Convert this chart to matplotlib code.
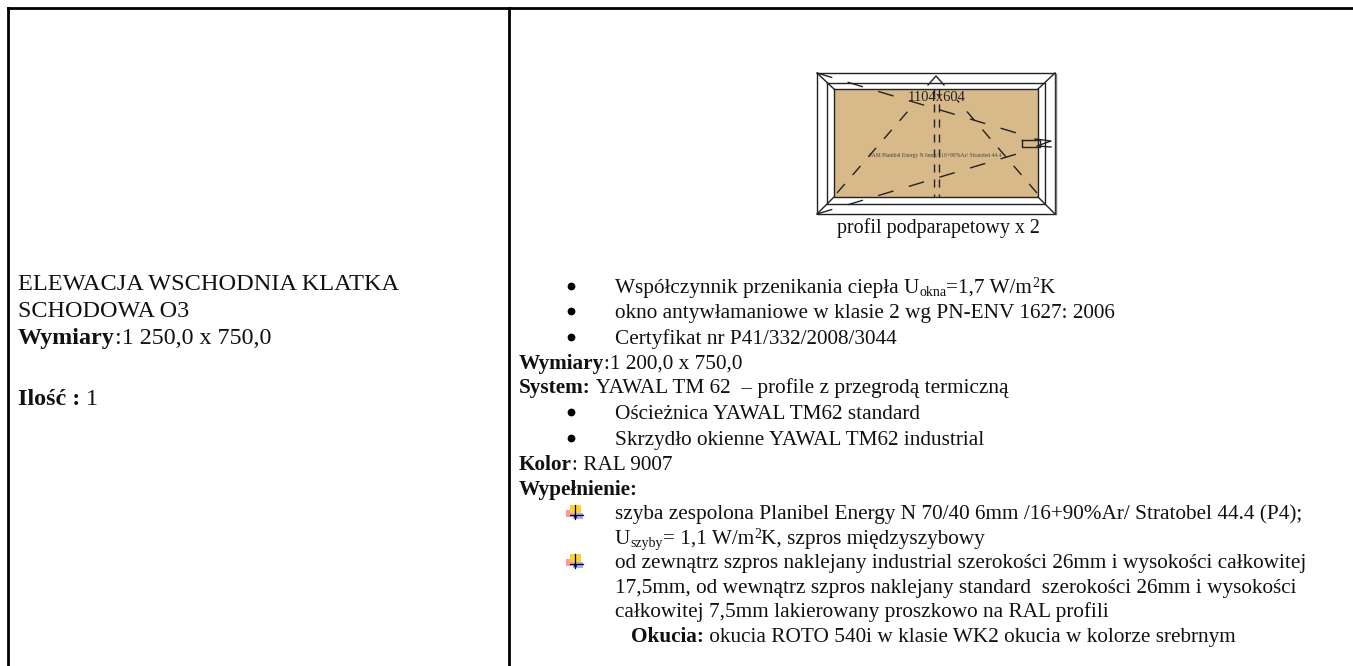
#!/usr/bin/env python3
import matplotlib
matplotlib.use("Agg")
import matplotlib.pyplot as plt
from matplotlib.patches import Rectangle

W, H = 1353, 666
FS = 15.3
FS_LEFT = 17.3
FS_SUB = 10

left_text = ["ELEWACJA WSCHODNIA KLATKA", "SCHODOWA O3"]
left_bold = [("Wymiary", ":1 250,0 x 750,0"), ("Ilość :", " 1")]

bullet_text = [
    "okno antywłamaniowe w klasie 2 wg PN-ENV 1627: 2006",
    "Certyfikat nr P41/332/2008/3044",
    "Ościeżnica YAWAL TM62 standard",
    "Skrzydło okienne YAWAL TM62 industrial",
]
fill_text = [
    "szyba zespolona Planibel Energy N 70/40 6mm /16+90%Ar/ Stratobel 44.4 (P4);",
    "od zewnątrz szpros naklejany industrial szerokości 26mm i wysokości całkowitej",
    "17,5mm, od wewnątrz szpros naklejany standard  szerokości 26mm i wysokości",
    "całkowitej 7,5mm lakierowany proszkowo na RAL profili",
]
bold_text = [
    ("Wymiary", ":1 200,0 x 750,0"),
    ("System:", " YAWAL TM 62  – profile z przegrodą termiczną"),
    ("Kolor", ": RAL 9007"),
    ("Wypełnienie:", ""),
]
okucia = ("Okucia:", " okucia ROTO 540i w klasie WK2 okucia w kolorze srebrnym")
window_size = "1104x604"
glass_text = "PAM Planibel Energy N 6mm/ /16+90%Ar/ Stratobel 44.4"
window_caption = "profil podparapetowy x 2"

plt.rcParams["font.family"] = ["Liberation Serif", "DejaVu Serif"]
fig = plt.figure(figsize=(W / 100, H / 100), dpi=100)
ax = fig.add_axes([0, 0, 1, 1])
ax.set_xlim(0, W)
ax.set_ylim(H, 0)
ax.axis("off")
INK = "#111111"


def txt(x, y, s, fs=FS, weight="normal", ha="left", color=INK, zorder=4):
    return ax.text(x, y, s, va="baseline", ha=ha, color=color, fontsize=fs,
                   fontweight=weight, zorder=zorder)


def run(x, y, parts):
    # text pieces one after the other: (text, fontsize, weight, rise)
    r = fig.canvas.get_renderer()
    for s, fs, weight, rise in parts:
        if not s:
            continue
        bb = txt(x, y + rise, s, fs, weight).get_window_extent(r)
        x = bb.x0 + bb.width
    return x


# table borders
for xs, ys in [([8, W], [8, 8]), ([8, 8], [8, H]), ([509, 509], [8, H])]:
    ax.plot(xs, ys, color="black", lw=2.0, solid_capstyle="projecting")

# left cell
for y, s, fs in zip([290, 317], left_text, [17.6, 17.4]):
    txt(18, y, s, fs)
for y, (b, n) in zip([344, 405], left_bold):
    run(18, y, [(b, FS_LEFT, "bold", 0), (n, FS_LEFT, "normal", 0)])

# right cell
for y, s in zip([318, 344, 419, 445], bullet_text):
    txt(615, y, s)
for y, s in zip([519, 568, 593, 617], fill_text):
    txt(615, y, s)
for y, (b, n) in zip([369, 393, 470, 495], bold_text):
    run(519, y, [(b, FS, "bold", 0), (n, FS, "normal", 0)])
run(631, 642, [(okucia[0], FS, "bold", 0), (okucia[1], FS, "normal", 0)])

run(615, 293, [("Współczynnik przenikania ciepła U", FS, "normal", 0),
               ("okna", FS_SUB, "normal", 3), ("=1,7 W/m", FS, "normal", 0),
               ("2", FS_SUB, "normal", -6), ("K", FS, "normal", 0)])
run(615, 544, [("U", FS, "normal", 0), ("szyby", FS_SUB, "normal", 3),
               ("= 1,1 W/m", FS, "normal", 0), ("2", FS_SUB, "normal", -6),
               ("K, szpros międzyszybowy", FS, "normal", 0)])

# bullets and coloured list marks
bullet_y = [293, 318, 344, 419, 445]
ax.plot([571] * len(bullet_y), [y - 7 for y in bullet_y], "o", color="black", ms=5.6, mew=0, ls="none")
for y in [519, 568]:
    ax.add_patch(Rectangle((566, y - 9), 9, 7, color="#ff9a9a", lw=0, zorder=2))
    ax.add_patch(Rectangle((570, y - 14), 11, 8, color="#ffd030", lw=0, zorder=2))
    ax.add_patch(Rectangle((573, y - 6), 10, 6, color="#a8a8ff", lw=0, zorder=2))
    ax.add_patch(Rectangle((574, y - 4), 3, 3, color="#2020e0", lw=0, zorder=2))
    ax.plot([575, 575], [y - 14, y], color="black", lw=0.9, zorder=3)
    ax.plot([570, 583], [y - 4, y - 4], color="black", lw=0.9, zorder=3)

# window drawing
ax.add_patch(Rectangle((834, 89), 204, 108, color="#d8b98a", lw=0, zorder=1))
wk = dict(color="#222222", lw=1.0, zorder=2)
ax.plot([817, 1055, 1055, 817, 817], [73, 73, 214, 214, 73], **wk)
ax.plot([1056, 1056], [74, 214], color="#777777", lw=1.0, zorder=2)
ax.plot([827, 1045, 1045, 827, 827], [83, 83, 204, 204, 83], **wk)
ax.plot([834, 1038, 1038, 834, 834], [89, 89, 197, 197, 89], **wk)
for xs, ys in [([817, 834], [73, 89]), ([1055, 1038], [73, 89]),
               ([817, 834], [214, 197]), ([1055, 1038], [214, 197])]:
    ax.plot(xs, ys, **wk)
ax.plot([1022, 1022, 1040, 1040, 1022], [140, 147, 147, 140, 140], **wk)
ax.plot([1035, 1051, 1037, 1051], [139, 141, 146, 147], **wk)
ax.plot([928, 936, 944], [85, 76, 85], **wk)
# dashed sash lines
ds = dict(color="#222222", lw=1.0, zorder=3)
ax.plot([934, 934], [89, 197], ls=(0, (5.8, 5)), **ds)
ax.plot([939, 939], [89, 197], ls=(0, (5.8, 5)), **ds)
ax.plot([817, 1020], [73, 134], ls=(0, (11.5, 11.5)), **ds)
ax.plot([817, 1020], [214, 153], ls=(0, (11.5, 11.5)), **ds)
ax.plot([837, 915], [193, 103], ls=(0, (8.6, 8.6)), **ds)
ax.plot([1037, 957], [193, 100], ls=(0, (8.6, 8.6)), **ds)

txt(937, 101, window_size, 10.5, ha="center", color="#222222")
txt(935, 157, glass_text, 4.1, ha="center", color="#444444")
txt(938, 233, window_caption, 14.4, ha="center")

fig.savefig("out.png", dpi=100)
